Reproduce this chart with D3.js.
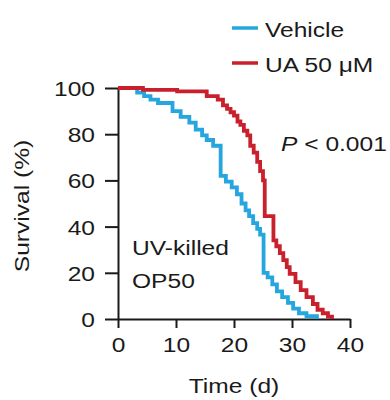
<!DOCTYPE html>
<html>
<head>
<meta charset="utf-8">
<script src="https://cdn.jsdelivr.net/npm/d3@7"></script>
<style>
  html, body { margin: 0; padding: 0; background: #fff; }
  svg { display: block; }
  text { font-family: "Liberation Sans", Arial, Helvetica, sans-serif; fill: #1a1a1a; }
</style>
</head>
<body>
<svg id="chart" width="390" height="400"></svg>
<script>
// Kaplan–Meier survival steps: day of each drop and % surviving after it
const vehicleTime = [0, 3.3, 4.5, 5.6, 6.9, 9.4, 10.8, 12.3, 13.4, 14.5, 15.3, 16.4, 17.7, 18.6, 19.6, 20.5, 21.3, 22.0, 22.6, 23.3, 24.0, 24.5, 25.1, 25.8, 26.6, 27.4, 28.3, 29.3, 30.2, 31.2, 32.5, 34.3];
const vehicleSurv = [100, 98, 96.5, 95, 93.5, 90, 87.5, 85, 82, 79.5, 77.5, 75, 62, 59.5, 57, 54, 50, 47, 44.5, 41.5, 39, 36.5, 20, 18, 15, 12, 9.5, 7, 4.5, 2.5, 1.2, 0];

const uaTime = [0, 4.3, 10.2, 15.3, 17.2, 18.1, 18.8, 19.4, 20.0, 20.6, 21.1, 21.7, 22.3, 22.8, 23.4, 24.0, 24.5, 25.0, 25.3, 26.8, 27.3, 27.9, 28.5, 29.1, 29.6, 30.6, 31.5, 32.5, 33.6, 34.4, 35.3, 36.2, 36.9];
const uaSurv = [100, 99.2, 98.5, 96.5, 95, 92.5, 91, 89.5, 88, 85.5, 84, 81.5, 79.5, 75, 72, 68, 64, 60, 44.5, 34, 31.5, 28.5, 25.5, 22.5, 19.5, 16, 12.5, 9.5, 6.5, 4, 2.5, 1, 0];

const xTicks = [0, 10, 20, 30, 40];
const yTicks = [0, 20, 40, 60, 80, 100];

const seriesNames = ["Vehicle", "UA 50 \u03BCM"];
const seriesColors = ["#25a6de", "#c8202c"];

const svg = d3.select("#chart");
const sx = 1.17; // horizontal glyph stretch of the type

const x = d3.scaleLinear().domain([0, 40]).range([118, 350]);
const y = d3.scaleLinear().domain([0, 100]).range([319, 88]);

// axes
const gx = svg.append("g").attr("transform", `translate(0,${y(0)})`)
  .call(d3.axisBottom(x).tickValues(xTicks).tickSize(9).tickSizeOuter(0).tickFormat(d3.format("d")));
const gy = svg.append("g").attr("transform", `translate(${x(0)},0)`)
  .call(d3.axisLeft(y).tickValues(yTicks).tickSize(13).tickSizeOuter(0).tickFormat(d3.format("d")));

[gx, gy].forEach(g => {
  g.select(".domain").attr("stroke", "#1a1a1a").attr("stroke-width", 2);
  g.selectAll(".tick line").attr("stroke", "#1a1a1a").attr("stroke-width", 2);
  g.selectAll(".tick text").attr("font-size", 21).attr("fill", "#1a1a1a")
    .attr("font-family", "Liberation Sans, Arial, sans-serif");
});
gx.selectAll(".tick text").attr("y", 0).attr("dy", 0)
  .attr("transform", `translate(0,33) scale(${sx},1)`);
gy.selectAll(".tick text").attr("x", 0).attr("dy", "0.36em")
  .attr("transform", `translate(-23,0) scale(${sx},1)`);

// survival curves
const line = d3.line().x(d => x(d[0])).y(d => y(d[1])).curve(d3.curveStepAfter);
const series = [
  d3.zip(vehicleTime, vehicleSurv),
  d3.zip(uaTime, uaSurv)
];
series.forEach((pts, i) => {
  svg.append("path").datum(pts)
    .attr("d", line)
    .attr("fill", "none")
    .attr("stroke", seriesColors[i])
    .attr("stroke-width", 3.8)
    .attr("stroke-linejoin", "miter");
});

// stretched text helper
function label(tx, ty, str, opts = {}) {
  const t = svg.append("text")
    .attr("transform", `translate(${tx},${ty}) rotate(${opts.rotate || 0}) scale(${sx},1)`)
    .attr("font-size", opts.size || 21)
    .attr("text-anchor", opts.anchor || "start");
  return t.text(str);
}

// axis titles
label(234, 393, "Time (d)", { anchor: "middle" });
label(29, 206, "Survival (%)", { anchor: "middle", rotate: -90 });

// legend
const legendY = [28, 63];
seriesNames.forEach((name, i) => {
  svg.append("line")
    .attr("x1", 232).attr("x2", 258)
    .attr("y1", legendY[i]).attr("y2", legendY[i])
    .attr("stroke", seriesColors[i]).attr("stroke-width", 3.5);
  label(265, legendY[i] + 9, name);
});

// annotations
const p = svg.append("text")
  .attr("transform", `translate(281,151) scale(${sx},1)`)
  .attr("font-size", 21);
p.append("tspan").attr("font-style", "italic").text("P");
p.append("tspan").text(" < 0.001");

label(132, 255, "UV-killed");
label(132, 288, "OP50");
</script>
</body>
</html>
